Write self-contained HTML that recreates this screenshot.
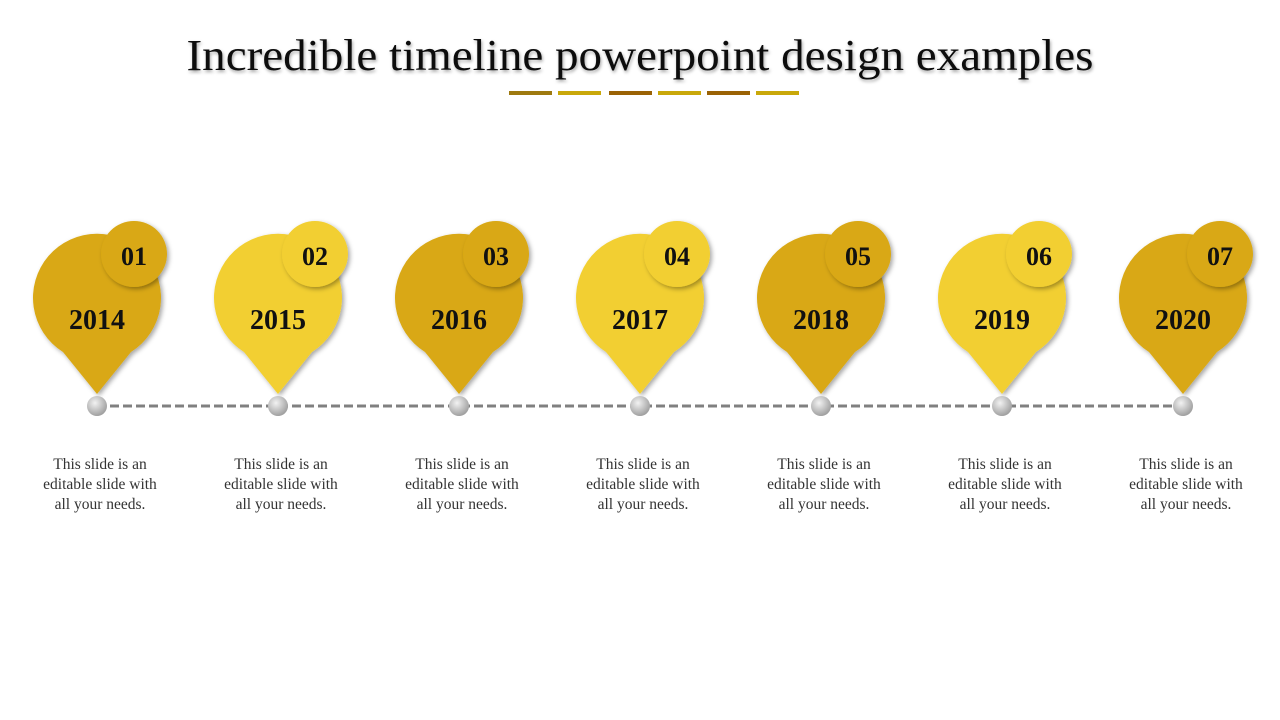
<!DOCTYPE html>
<html><head><meta charset="utf-8"><style>
html,body{margin:0;padding:0;background:#fff;}
svg{display:block;}
</style></head><body>
<svg id="s" width="1280" height="720" viewBox="0 0 1280 720" xmlns="http://www.w3.org/2000/svg">
<defs>
<filter id="sh" x="-30%" y="-30%" width="160%" height="160%"><feDropShadow dx="2" dy="2" stdDeviation="2.5" flood-color="#000" flood-opacity="0.35"/></filter>
<filter id="ts" x="-5%" y="-30%" width="110%" height="160%"><feDropShadow dx="1" dy="2" stdDeviation="1.5" flood-color="#000" flood-opacity="0.35"/></filter>
<radialGradient id="dot" cx="40%" cy="35%" r="65%"><stop offset="0" stop-color="#f2f2f2"/><stop offset="1" stop-color="#a0a0a0"/></radialGradient>
</defs>
<text x="640" y="70" text-anchor="middle" font-family="Liberation Serif, serif" font-size="44" textLength="907" lengthAdjust="spacingAndGlyphs" fill="#111" filter="url(#ts)">Incredible timeline powerpoint design examples</text>
<g>
<rect x="509" y="91" width="43" height="4" fill="#9e7a10"/>
<rect x="558" y="91" width="43" height="4" fill="#c9a80a"/>
<rect x="609" y="91" width="43" height="4" fill="#9a6205"/>
<rect x="658" y="91" width="43" height="4" fill="#c9a80a"/>
<rect x="707" y="91" width="43" height="4" fill="#9a6205"/>
<rect x="756" y="91" width="43" height="4" fill="#c9a80a"/>
</g>
<line x1="97" y1="406" x2="1183" y2="406" stroke="#808080" stroke-width="3" stroke-dasharray="9,4"/>
<g id="items"></g>
</svg>
<script>
const years=["2014","2015","2016","2017","2018","2019","2020"];
const nums=["01","02","03","04","05","06","07"];
const desc=["This slide is an","editable slide with","all your needs."];
const NS="http://www.w3.org/2000/svg";
const g=document.getElementById('items');
function mk(t,a,p){const e=document.createElementNS(NS,t);for(const k in a)e.setAttribute(k,a[k]);p.appendChild(e);return e;}
years.forEach((y,i)=>{
  const cx=97+i*181, col=i%2?"#f2cf30":"#d9a812";
  const grp=mk('g',{},g);
  
  
  const pin=mk('path',{d:`M${cx-34} ${352} A64 64 0 1 1 ${cx+34} ${352} L${cx} ${394} Z`,fill:col,filter:'url(#sh)'},grp);
  
  
  const c=mk('circle',{cx:cx+37,cy:254,r:33,fill:col,filter:'url(#sh)'},grp);
  
  
  const n=mk('text',{x:cx+37,y:265,'text-anchor':'middle','font-family':'Liberation Serif, serif','font-weight':'bold','font-size':'26',fill:'#111'},grp);
  n.textContent=nums[i];
  
  
  const yt=mk('text',{x:cx,y:329,'text-anchor':'middle','font-family':'Liberation Serif, serif','font-weight':'bold','font-size':'28',fill:'#111'},grp);
  yt.textContent=y;
  
  
  const d=mk('circle',{cx:cx,cy:406,r:10,fill:'url(#dot)'},grp);
  
  
  const tx=mk('text',{'text-anchor':'middle','font-family':'Liberation Serif, serif','font-size':'15.5',fill:'#333'},grp);
  
  
  desc.forEach((l,j)=>{const s=mk('tspan',{x:cx+3,y:469+j*20},tx);s.textContent=l;});
});
</script>
</body></html>
